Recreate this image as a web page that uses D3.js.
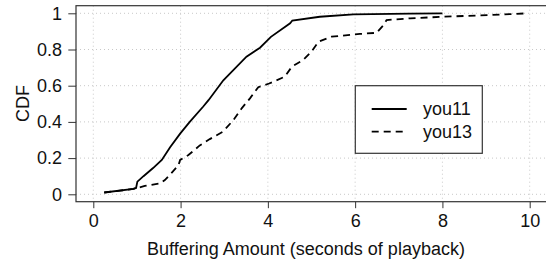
<!DOCTYPE html>
<html>
<head>
<meta charset="utf-8">
<script src="https://cdn.jsdelivr.net/npm/d3@7"></script>
<style>
  body { margin: 0; background: #fff; }
  svg text { font-family: "Liberation Sans", Arial, sans-serif; fill: #111; }
</style>
</head>
<body>
<div id="chart"></div>
<script>
(function() {
    // values
    var you11X = [0.25, 0.92, 0.98, 1.01, 1.15, 1.37, 1.57, 1.76, 1.99, 2.21, 2.52, 2.64, 2.98, 3.51, 3.82, 4.07, 4.51, 4.56, 5.19, 5.96, 7.26, 8.0];
    var you11Y = [0.01, 0.03, 0.035, 0.07, 0.10, 0.145, 0.19, 0.26, 0.335, 0.40, 0.485, 0.52, 0.63, 0.76, 0.81, 0.87, 0.945, 0.96, 0.981, 0.994, 0.998, 1.0];
    var you13X = [0.25, 0.61, 0.92, 1.18, 1.53, 1.64, 1.80, 1.95, 1.99, 2.18, 2.44, 2.67, 2.97, 3.21, 3.40, 3.59, 3.78, 4.03, 4.39, 4.55, 4.81, 5.0, 5.16, 5.46, 6.11, 6.49, 6.65, 6.72, 7.26, 8.0, 9.04, 9.96];
    var you13Y = [0.01, 0.02, 0.03, 0.046, 0.06, 0.079, 0.12, 0.16, 0.19, 0.217, 0.27, 0.305, 0.346, 0.41, 0.475, 0.53, 0.592, 0.612, 0.65, 0.705, 0.742, 0.788, 0.843, 0.871, 0.886, 0.892, 0.935, 0.963, 0.972, 0.981, 0.99, 1.0];
    var xTicks = [0, 2, 4, 6, 8, 10];
    var yTicks = [0, 0.2, 0.4, 0.6, 0.8, 1];
    var seriesNames = ['you11', 'you13'];

    var width = 546, height = 264;
    var frame = { left: 76, top: 5.7, right: 550, bottom: 201.7 };
    var fontSize = 18;

    var svg = d3.select('#chart')
        .append('svg')
        .attr('width', width)
        .attr('height', height);

    var xScale = d3.scaleLinear().domain([0, 10]).range([93.3, 529.7]);
    var yScale = d3.scaleLinear().domain([0, 1]).range([194.3, 13.3]);

    // dotted grid
    var grid = svg.append('g')
        .attr('stroke', '#c8c8c8')
        .attr('stroke-width', 1)
        .attr('stroke-dasharray', '1,3');
    grid.selectAll('.gx').data(xTicks).enter().append('line')
        .attr('x1', d => xScale(d)).attr('x2', d => xScale(d))
        .attr('y1', frame.top).attr('y2', frame.bottom);
    grid.selectAll('.gy').data(yTicks).enter().append('line')
        .attr('x1', frame.left).attr('x2', frame.right)
        .attr('y1', d => yScale(d)).attr('y2', d => yScale(d));

    // axes
    var xAxis = svg.append('g')
        .attr('transform', `translate(0, ${frame.bottom})`)
        .call(d3.axisBottom(xScale).tickValues(xTicks).tickSize(6.5).tickPadding(6.5).tickFormat(d3.format('d')));
    var yAxis = svg.append('g')
        .attr('transform', `translate(${frame.left}, 0)`)
        .call(d3.axisLeft(yScale).tickValues(yTicks).tickSize(7.7).tickPadding(6.4).tickFormat(d => d === 0 || d === 1 ? d : d.toFixed(1)));
    [xAxis, yAxis].forEach(function(a) {
        a.select('.domain').remove();
        a.selectAll('line').attr('stroke', '#333');
        a.selectAll('text').style('font-size', fontSize + 'px').attr('fill', '#111');
    });

    // plot frame
    svg.append('rect')
        .attr('x', frame.left).attr('y', frame.top)
        .attr('width', frame.right - frame.left).attr('height', frame.bottom - frame.top)
        .attr('fill', 'none').attr('stroke', '#333').attr('stroke-width', 1.2);

    // lines
    var line = d3.line().x(d => xScale(d[0])).y(d => yScale(d[1]));
    var series = [
        { name: seriesNames[0], pts: d3.zip(you11X, you11Y), dash: null },
        { name: seriesNames[1], pts: d3.zip(you13X, you13Y), dash: '7,5' }
    ];
    svg.selectAll('.series').data(series).enter().append('path')
        .attr('d', d => line(d.pts))
        .attr('fill', 'none')
        .attr('stroke', '#000')
        .attr('stroke-width', 1.8)
        .attr('stroke-dasharray', d => d.dash);

    // axis labels
    svg.append('text')
        .attr('x', 306).attr('y', 255)
        .attr('text-anchor', 'middle')
        .style('font-size', fontSize + 'px')
        .text('Buffering Amount (seconds of playback)');
    svg.append('text')
        .attr('transform', 'rotate(-90)')
        .attr('x', -103.5).attr('y', 28.5)
        .attr('text-anchor', 'middle')
        .style('font-size', fontSize + 'px')
        .text('CDF');

    // legend
    var legend = svg.append('g');
    legend.append('rect')
        .attr('x', 355.3).attr('y', 85.7).attr('width', 127).attr('height', 67.6)
        .attr('fill', '#fff').attr('stroke', '#333').attr('stroke-width', 1.2);
    var rows = legend.selectAll('.row').data(series).enter().append('g')
        .attr('transform', (d, i) => `translate(0, ${109 + i * 22.7})`);
    rows.append('line')
        .attr('x1', 371.7).attr('x2', 406.7)
        .attr('stroke', '#000').attr('stroke-width', 1.8)
        .attr('stroke-dasharray', d => d.dash);
    rows.append('text')
        .attr('x', 423).attr('dy', '0.35em')
        .style('font-size', fontSize + 'px')
        .text(d => d.name);
})();
</script>
</body>
</html>
